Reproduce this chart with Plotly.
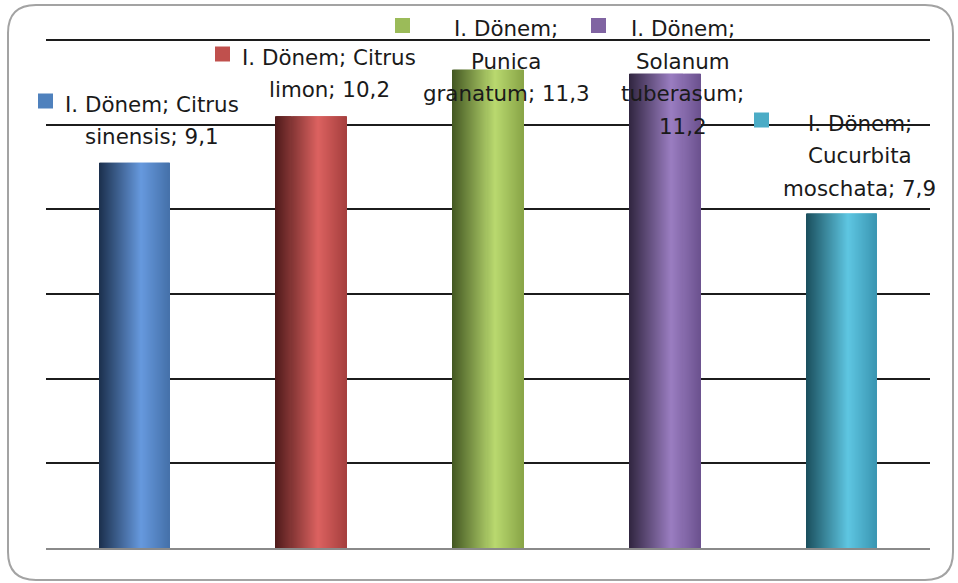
import textwrap
import plotly.graph_objects as go

# ---- data ----
period = "I. Dönem"
species = ["Citrus sinensis", "Citrus limon", "Punica granatum",
           "Solanum tuberasum", "Cucurbita moschata"]
values = [9.1, 10.2, 11.3, 11.2, 7.9]

# cylinder shading for each bar: (dark left edge, highlight, right edge)
shades = [
    ("#1b2f4c", "#6699de", "#4571aa"),
    ("#4e1a1a", "#dc6260", "#a63f3e"),
    ("#435722", "#b9d96f", "#89a547"),
    ("#30253f", "#9a7dc1", "#6c528f"),
    ("#1a4e5c", "#5ec6e2", "#3a96b2"),
]
key_colors = ["#4f81bd", "#c0504d", "#9bbb59", "#8064a2", "#4bacc6"]

# ---- layout constants (pixels in a 958x583 canvas) ----
W, H = 958, 583
L, R, T, B = 46, 28, 36, 35
PW, PH = W - L - R, H - T - B
GRID_TOP_PX = 40                      # pixel row of the 12 gridline
Y_TOP = 12 * PH / (H - B - GRID_TOP_PX)


def px(x):
    return (x - L) / PW


def py(y):
    return (H - B - y) / PH


def fmt(v):
    return f"{v:.1f}".replace(".", ",")


wrap_widths = [16, 16, 14, 10, 13]
label_top = [103, 56, 27.5, 27.5, 122]   # centre of first text line
key_left = [38, 215, 395, 591, 754]       # left edge of colour key
line_step = 32.5
key_size = 15
label_dx = 18
font = dict(family="DejaVu Sans", size=21.4, color="#1a1a1a")


def lerp(c1, c2, t):
    a = [int(c1[i:i + 2], 16) for i in (1, 3, 5)]
    b = [int(c2[i:i + 2], 16) for i in (1, 3, 5)]
    return "#" + "".join(f"{round(x + (y - x) * t):02x}" for x, y in zip(a, b))


def shade_at(s, t):
    dark, light, edge = s
    if t < 0.6:
        return lerp(dark, light, t / 0.6)
    return lerp(light, edge, (t - 0.6) / 0.4)


fig = go.Figure()

# each bar is drawn as thin vertical strips of the same height to get the shading
bar_w = 0.4
n_strips = 70
sw = bar_w / n_strips
for i in range(n_strips):
    t = (i + 0.5) / n_strips
    last = i == n_strips - 1
    fig.add_trace(go.Bar(
        x=species, y=values,
        width=sw if last else sw * 1.8, offset=-bar_w / 2 + i * sw,
        marker=dict(color=[shade_at(s, t) for s in shades], line=dict(width=0)),
        hoverinfo="skip", showlegend=False,
    ))

annotations = []
shapes = []
for k, (sp, v) in enumerate(zip(species, values)):
    text = f"{period}; {sp}; {fmt(v)}"
    lines = textwrap.wrap(text, wrap_widths[k])
    for j, ln in enumerate(lines):
        annotations.append(dict(
            x=sp, xref="x", xshift=label_dx,
            y=py(label_top[k] + j * line_step + 1), yref="paper",
            text=ln, showarrow=False, font=font,
            xanchor="center", yanchor="middle",
        ))
    cy = label_top[k] - 2
    shapes.append(dict(
        type="rect", xref="paper", yref="paper",
        x0=px(key_left[k]), x1=px(key_left[k] + key_size),
        y0=py(cy - key_size / 2), y1=py(cy + key_size / 2),
        fillcolor=key_colors[k], line=dict(width=0),
    ))

# rounded chart-area border
x0, x1, y0, y1, r = 8, 953, 5, 580, 28
path = (f"M {px(x0 + r)},{py(y0)} L {px(x1 - r)},{py(y0)} "
        f"Q {px(x1)},{py(y0)} {px(x1)},{py(y0 + r)} "
        f"L {px(x1)},{py(y1 - r)} Q {px(x1)},{py(y1)} {px(x1 - r)},{py(y1)} "
        f"L {px(x0 + r)},{py(y1)} Q {px(x0)},{py(y1)} {px(x0)},{py(y1 - r)} "
        f"L {px(x0)},{py(y0 + r)} Q {px(x0)},{py(y0)} {px(x0 + r)},{py(y0)} Z")
shapes.append(dict(type="path", path=path, xref="paper", yref="paper",
                   line=dict(color="#a3a3a3", width=2), layer="below"))

fig.update_layout(
    width=W, height=H, autosize=False,
    margin=dict(l=L, r=R, t=T, b=B),
    paper_bgcolor="white", plot_bgcolor="white",
    barmode="overlay", showlegend=False,
    annotations=annotations, shapes=shapes,
    xaxis=dict(range=[-0.5, len(species) - 0.5],
               showticklabels=False, ticks="", showgrid=False,
               showline=True, linecolor="#8a8a8a", linewidth=2,
               zeroline=False),
    yaxis=dict(range=[0, Y_TOP], tickvals=[2, 4, 6, 8, 10, 12],
               showticklabels=False, ticks="",
               showgrid=True, gridcolor="#1c1c1c", gridwidth=2,
               zeroline=False, showline=False),
)

fig.write_html("out.html")
